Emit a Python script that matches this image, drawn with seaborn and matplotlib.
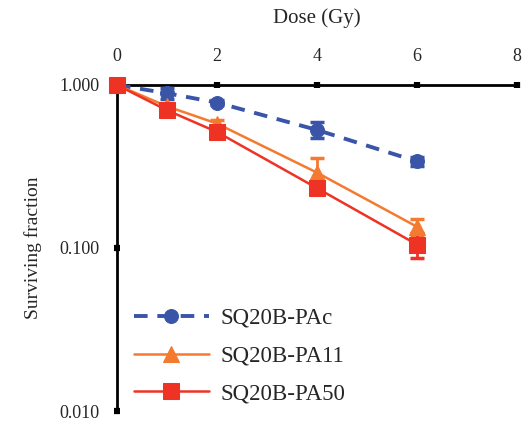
import matplotlib
matplotlib.use("Agg")
import matplotlib.pyplot as plt
import seaborn as sns
import numpy as np
import pandas as pd

dose = [0, 1, 2, 4, 6]
pac = [1.0, 0.89, 0.78, 0.53, 0.34]
pac_err = [0.0, 0.07, 0.03, 0.06, 0.02]
pa11 = [1.0, 0.74, 0.58, 0.29, 0.135]
pa11_err = [0.0, 0.03, 0.03, 0.066, 0.016]
pa50 = [1.0, 0.70, 0.515, 0.233, 0.105]
pa50_err = [0.0, 0.03, 0.02, 0.02, 0.018]
labels = ["SQ20B-PAc", "SQ20B-PA11", "SQ20B-PA50"]
colors = ["#3A55A8", "#F47A30", "#EE3224"]
xticks = [0, 2, 4, 6, 8]
yticks = [0.01, 0.1, 1.0]
ytick_labels = ["0.010", "0.100", "1.000"]

sns.set_theme(style="white")
plt.rcParams['font.family'] = ['Liberation Serif', 'DejaVu Serif']

fig = plt.figure(figsize=(5.28, 4.32), dpi=100)
ax = fig.add_axes([117/528, 1-411/432, 400/528, (411-85)/432])

series = [
    (pac, pac_err, labels[0], colors[0], "o", (0, (3.5, 2.5)), 2.8, 10),
    (pa11, pa11_err, labels[1], colors[1], "^", "-", 1.8, 11),
    (pa50, pa50_err, labels[2], colors[2], "s", "-", 1.8, 11.5),
]
for vals, err, lab, col, mk, ls, lw, ms in series:
    df = pd.DataFrame({"dose": dose, "sf": vals})
    ax.errorbar(dose, vals, yerr=err, fmt="none", ecolor=col, elinewidth=2,
                capsize=5, capthick=2.5, zorder=2)
    sns.lineplot(data=df, x="dose", y="sf", ax=ax, color=col, marker=mk,
                 markersize=ms, markeredgecolor=col, linestyle=ls, linewidth=lw,
                 label=lab, zorder=3)

ax.set_yscale("log")
ax.set_xlim(0, 8)
ax.set_ylim(0.01, 1.0)
ax.set_xticks(xticks)
ax.set_yticks(yticks)
ax.set_yticklabels(ytick_labels)
ax.minorticks_off()
ax.xaxis.tick_top()
ax.xaxis.set_label_position("top")
ax.set_xlabel("Dose (Gy)", fontsize=15, labelpad=18)
ax.set_ylabel("Surviving fraction", fontsize=14, labelpad=13)
for s in ["right", "bottom"]:
    ax.spines[s].set_visible(False)
for s in ["left", "top"]:
    ax.spines[s].set_color("black")
    ax.spines[s].set_linewidth(2)
    ax.spines[s].set_zorder(1)
ax.tick_params(axis="both", which="major", direction="inout", length=4.5,
               width=4.5, color="black", labelsize=13, pad=10)
ax.tick_params(axis="x", top=True, bottom=False, pad=12)
ax.tick_params(axis="y", left=True)
ax.grid(False)
ax.set_facecolor("white")

leg = ax.legend(loc="lower left", bbox_to_anchor=(-0.01, -0.042), frameon=False,
                fontsize=16.5, handlelength=3.3, labelspacing=0.72, handletextpad=0.5)
for line in ax.lines:
    line.set_clip_on(False)
for coll in ax.collections:
    coll.set_clip_on(False)

fig.savefig("out.png", dpi=100)
